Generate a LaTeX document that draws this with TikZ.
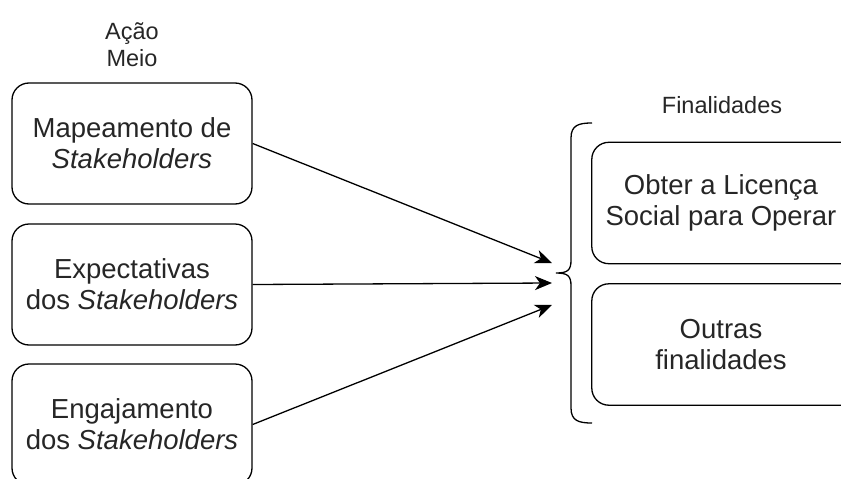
\documentclass[tikz,border=0pt]{standalone}
\usepackage{fontspec}
\setmainfont{Liberation Sans}
\usetikzlibrary{arrows.meta}
\tikzset{
  box/.style={draw=black, line width=1.3pt, rounded corners=17pt, minimum width=240pt, minimum height=121pt, inner sep=0pt, align=center, font=\fontsize{27.5}{31}\selectfont, text=black!85},
  rtext/.style={minimum width=258pt, minimum height=121pt, inner sep=0pt, align=center, font=\fontsize{27.5}{31}\selectfont, text=black!85},
  rframe/.style={draw=black, line width=1.3pt, rounded corners=17pt},
  lbl/.style={align=center, font=\fontsize{23.5}{27}\selectfont, text=black!85},
  arr/.style={line width=1.3pt, -{Stealth[length=17pt,width=14pt,inset=5pt]}},
}
\begin{document}
\begin{tikzpicture}[x=1pt,y=1pt]
\useasboundingbox (0,0) rectangle (841,-479);
\clip (0,0) rectangle (841,-479);
\node[lbl] (head) at (132,-45) {Ação\\Meio};
\node[box] (L1) at (132,-143.5) {Mapeamento de\\\textit{Stakeholders}};
\node[box] (L2) at (132,-284.5) {Expectativas\\dos \textit{Stakeholders}};
\node[box] (L3) at (132,-424.5) {Engajamento\\dos \textit{Stakeholders}};
\node[lbl] (fin) at (722,-105) {Finalidades};
\node[rtext] (R1) at (721,-203) {Obter a Licença\\Social para Operar};
\node[rtext] (R2) at (721,-344.5) {Outras\\finalidades};
\draw[rframe] (R1.north west) rectangle ([xshift=30pt]R1.south east);
\draw[rframe] (R2.north west) rectangle ([xshift=30pt]R2.south east);
\coordinate (t1) at (552,-263);
\coordinate (t2) at (552,-283);
\coordinate (t3) at (552,-305);
\draw[arr] (L1.east) -- (t1);
\draw[arr] (L2.east) -- (t2);
\draw[arr] (L3.east) -- (t3);
\draw[line width=1.3pt] (592,-123) .. controls (579,-123) and (571,-125) .. (571,-138)
  -- (571,-260) .. controls (571,-270) and (568,-273) .. (556,-273)
  (556,-273) .. controls (568,-273) and (571,-276) .. (571,-286)
  -- (571,-408) .. controls (571,-421) and (579,-423) .. (592,-423);
\end{tikzpicture}
\end{document}
